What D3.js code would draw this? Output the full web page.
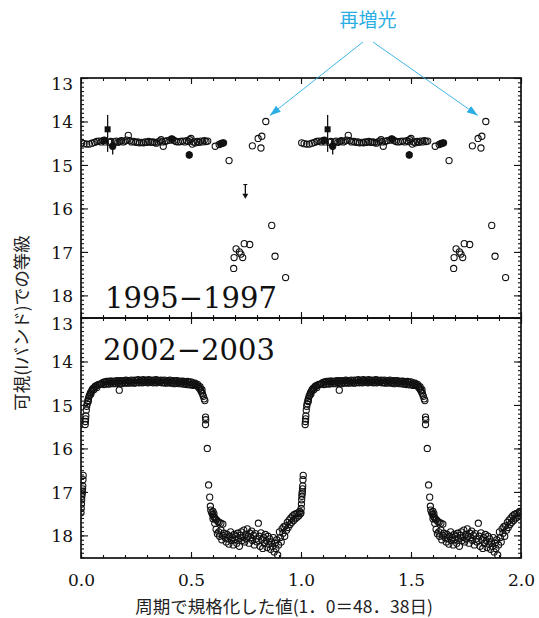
<!DOCTYPE html>
<html><head><meta charset="utf-8">
<script src="https://cdn.jsdelivr.net/npm/d3@7"></script>
<style>body{margin:0;background:#fff}svg{display:block}</style>
</head><body><svg id="c" width="539" height="618"></svg>
<script>
// ---------- data ----------
const xTicks = [0, 0.5, 1.0, 1.5, 2.0];
const yTicks = [13, 14, 15, 16, 17, 18];
const panelLabels = ["1995\u22121997", "2002\u22122003"];
const annotation = "再増光";
const yTitle = "可視(Iバンド)での等級";
const xTitle = "周期で規格化した値(1．0＝48．38日)";
const rebrightPhase = [0.840, 14.00];

// 1995-1997 : open circles [phase, mag]
const top95Open = [[0.003,14.49],[0.014,14.51],[0.026,14.52],[0.038,14.52],[0.050,14.50],[0.062,14.48],[0.072,14.46],[0.082,14.45],[0.092,14.47],[0.100,14.44],[0.110,14.47],[0.130,14.48],[0.136,14.46],[0.152,14.47],[0.160,14.45],[0.168,14.48],[0.176,14.46],[0.184,14.44],[0.192,14.47],[0.200,14.45],[0.208,14.43],[0.215,14.32],[0.222,14.44],[0.230,14.47],[0.240,14.46],[0.250,14.48],[0.258,14.47],[0.266,14.49],[0.276,14.48],[0.284,14.49],[0.292,14.47],[0.300,14.48],[0.308,14.46],[0.318,14.48],[0.326,14.47],[0.334,14.48],[0.342,14.50],[0.350,14.47],[0.358,14.45],[0.364,14.42],[0.370,14.47],[0.374,14.57],[0.382,14.46],[0.392,14.44],[0.404,14.43],[0.416,14.41],[0.424,14.44],[0.432,14.46],[0.442,14.47],[0.452,14.46],[0.462,14.45],[0.472,14.47],[0.480,14.44],[0.488,14.46],[0.494,14.42],[0.500,14.39],[0.506,14.52],[0.512,14.47],[0.520,14.49],[0.528,14.46],[0.536,14.48],[0.544,14.45],[0.552,14.47],[0.560,14.44],[0.568,14.46],[0.576,14.45],[0.610,14.57],[0.628,14.53],[0.673,14.90],[0.694,17.38],[0.696,17.13],[0.705,16.93],[0.720,17.00],[0.727,17.05],[0.735,17.13],[0.742,16.81],[0.767,16.83],[0.779,14.56],[0.805,14.39],[0.818,14.61],[0.822,14.34],[0.840,14.00],[0.867,16.39],[0.882,17.10],[0.930,17.59]];
// 1995-1997 : filled circles
const top95Filled = [[0.106,14.43],[0.144,14.57],[0.412,14.40],[0.492,14.77],[0.636,14.51],[0.642,14.50],[0.648,14.49]];
// 1995-1997 : filled square
const top95Square = [[0.121,14.18]];
// error bars [phase, magTop, magBottom]
const top95Err = [[0.121,13.85,14.70],[0.144,14.46,14.76],[0.492,14.68,14.86]];
// upper limit [phase, magTop, magTip] (shown once)
const top95Limit = [[0.747,15.45,15.78]];

// 2002-2003 [phase, mag]
const bot02Rise = [[0.000,17.48],[0.001,17.38],[0.002,17.28],[0.003,17.18],[0.004,17.10],[0.005,17.04],[0.006,17.00],[0.007,16.93],[0.008,16.86],[0.009,16.72],[0.010,16.62],[0.019,15.45],[0.020,15.38],[0.021,15.32],[0.022,15.25],[0.024,15.12],[0.026,15.03],[0.028,14.97],[0.031,14.90],[0.033,14.92],[0.034,14.85],[0.037,14.80],[0.040,14.77],[0.043,14.72],[0.045,14.75],[0.047,14.69],[0.051,14.65],[0.055,14.62],[0.058,14.65],[0.060,14.60],[0.065,14.57],[0.070,14.56],[0.072,14.60],[0.076,14.54],[0.082,14.53],[0.088,14.52],[0.094,14.51]];
const bot02PlateauA = [[0.100,14.48],[0.108,14.47],[0.116,14.46],[0.124,14.46],[0.132,14.45],[0.140,14.45],[0.148,14.46],[0.156,14.45],[0.164,14.44],[0.172,14.45],[0.180,14.44],[0.188,14.45],[0.196,14.44],[0.204,14.43],[0.212,14.44],[0.220,14.45],[0.228,14.43],[0.236,14.44],[0.244,14.43],[0.252,14.44],[0.260,14.42],[0.268,14.44],[0.276,14.43],[0.284,14.42],[0.292,14.44],[0.300,14.43],[0.308,14.42],[0.316,14.44],[0.324,14.43],[0.332,14.44],[0.340,14.42],[0.348,14.43],[0.356,14.44],[0.364,14.43],[0.372,14.44],[0.380,14.43],[0.388,14.45],[0.396,14.44],[0.404,14.43],[0.412,14.45],[0.420,14.44],[0.428,14.45],[0.436,14.44],[0.444,14.45],[0.452,14.46],[0.460,14.45],[0.468,14.46],[0.476,14.47],[0.484,14.46],[0.492,14.48],[0.500,14.47],[0.508,14.49]];
const bot02PlateauB = [[0.104,14.53],[0.112,14.52],[0.120,14.51],[0.128,14.52],[0.136,14.50],[0.144,14.51],[0.152,14.50],[0.160,14.51],[0.168,14.49],[0.174,14.66],[0.176,14.50],[0.184,14.51],[0.192,14.49],[0.200,14.50],[0.208,14.48],[0.216,14.50],[0.224,14.49],[0.232,14.48],[0.240,14.50],[0.248,14.49],[0.256,14.48],[0.264,14.49],[0.272,14.47],[0.280,14.49],[0.288,14.48],[0.296,14.47],[0.304,14.49],[0.312,14.48],[0.320,14.47],[0.328,14.49],[0.336,14.48],[0.344,14.49],[0.352,14.47],[0.360,14.48],[0.368,14.49],[0.376,14.48],[0.384,14.50],[0.392,14.49],[0.400,14.48],[0.408,14.50],[0.416,14.49],[0.424,14.51],[0.432,14.50],[0.440,14.49],[0.448,14.51],[0.456,14.50],[0.464,14.52],[0.472,14.51],[0.480,14.53],[0.488,14.52],[0.496,14.54],[0.504,14.53],[0.512,14.55]];
const bot02Decline = [[0.515,14.52],[0.518,14.50],[0.522,14.54],[0.528,14.56],[0.530,14.53],[0.534,14.59],[0.539,14.62],[0.541,14.58],[0.544,14.66],[0.548,14.70],[0.550,14.65],[0.552,14.74],[0.556,14.80],[0.560,14.86],[0.563,14.90],[0.566,15.28],[0.567,15.34],[0.566,15.45],[0.574,16.00],[0.580,16.84],[0.585,17.12],[0.588,17.33],[0.590,17.42],[0.594,17.48],[0.598,17.52],[0.600,17.45],[0.602,17.56],[0.604,17.50],[0.606,17.58],[0.610,17.62],[0.615,17.64],[0.622,17.68],[0.628,17.70],[0.636,17.72],[0.645,17.74]];
const bot02Minimum = [[0.600,17.62],[0.608,17.72],[0.614,17.86],[0.620,17.96],[0.626,17.92],[0.630,18.02],[0.636,17.88],[0.640,18.10],[0.645,18.00],[0.650,17.95],[0.655,18.05],[0.660,18.15],[0.664,17.98],[0.668,18.08],[0.672,18.20],[0.676,18.02],[0.680,17.92],[0.684,18.12],[0.688,18.05],[0.692,18.22],[0.696,17.98],[0.700,18.10],[0.704,18.02],[0.708,18.18],[0.712,17.95],[0.716,18.08],[0.720,18.25],[0.724,18.00],[0.728,17.92],[0.732,18.12],[0.736,18.05],[0.740,17.88],[0.744,18.15],[0.748,17.98],[0.752,18.08],[0.756,17.85],[0.760,18.02],[0.764,18.18],[0.768,17.95],[0.772,18.05],[0.776,17.90],[0.780,18.12],[0.784,18.00],[0.788,18.22],[0.792,17.96],[0.796,18.08],[0.800,18.15],[0.806,17.72],[0.810,18.02],[0.814,18.25],[0.818,17.94],[0.822,18.10],[0.826,18.30],[0.830,18.05],[0.834,18.18],[0.838,17.98],[0.842,18.12],[0.846,18.28],[0.850,18.02],[0.854,18.20],[0.858,18.08],[0.862,18.32],[0.866,18.15],[0.870,18.25],[0.874,18.05],[0.878,18.38],[0.882,18.18],[0.886,18.30],[0.890,18.10],[0.894,18.45],[0.898,18.22],[0.902,17.92],[0.906,18.05],[0.910,18.15],[0.914,17.85],[0.918,17.95],[0.922,17.80],[0.926,18.02],[0.930,17.78],[0.934,17.88],[0.938,17.70],[0.942,17.82],[0.946,17.65],[0.950,17.75],[0.954,17.60],[0.958,17.70],[0.962,17.55],[0.966,17.66],[0.970,17.52],[0.974,17.62],[0.978,17.50],[0.982,17.58],[0.986,17.48],[0.990,17.55],[0.994,17.45],[0.997,17.50]];

// ---------- drawing ----------
const svg = d3.select("#c");
const L = 81, R = 521, T1 = 78, M = 318, B = 558;
const x = d3.scaleLinear().domain([0, 2]).range([L, R]);
const yTop = d3.scaleLinear().domain([13, 18.52]).range([T1, M]);
const yBot = d3.scaleLinear().domain([13, 18.52]).range([M, B]);
const serif = "'DejaVu Serif', serif";
const cjk = "'Noto Sans CJK JP', sans-serif";
const cyan = "#2aaee4";

svg.append("clipPath").attr("id","ct").append("rect").attr("x",L).attr("y",T1).attr("width",R-L).attr("height",M-T1);
svg.append("clipPath").attr("id","cb").append("rect").attr("x",L).attr("y",M).attr("width",R-L).attr("height",B-M);

function dup(arr){ return arr.flatMap(d => [[d[0], ...d.slice(1)], [d[0]+1, ...d.slice(1)]]); }

function axes(y, yT, yB, showX){
  const minorY = d3.range(13, 18.55, 0.1);
  const minorX = d3.range(0, 2.001, 0.1);
  svg.append("g").attr("transform",`translate(${L},0)`)
    .call(d3.axisLeft(y).tickValues(minorY).tickSize(-3).tickFormat("").tickSizeOuter(0));
  const gL = svg.append("g").attr("transform",`translate(${L},0)`);
  gL.call(d3.axisLeft(y).tickValues(yTicks).tickSize(-7).tickPadding(8).tickFormat(d3.format("d")).tickSizeOuter(0));
  gL.selectAll("text").attr("font-family",serif).attr("font-size",17).attr("fill","#111")
    .attr("transform", d => d === 13 ? "translate(0,6)" : "translate(0,1)");
  svg.append("g").attr("transform",`translate(${R},0)`).call(d3.axisRight(y).tickValues(minorY).tickSize(-3).tickFormat("").tickSizeOuter(0));
  svg.append("g").attr("transform",`translate(${R},0)`).call(d3.axisRight(y).tickValues(yTicks).tickSize(-7).tickFormat("").tickSizeOuter(0));
  svg.append("g").attr("transform",`translate(0,${yT})`).call(d3.axisTop(x).tickValues(minorX).tickSize(-3).tickFormat("").tickSizeOuter(0));
  svg.append("g").attr("transform",`translate(0,${yT})`).call(d3.axisTop(x).tickValues(xTicks).tickSize(-6).tickFormat("").tickSizeOuter(0));
  svg.append("g").attr("transform",`translate(0,${yB})`).call(d3.axisBottom(x).tickValues(minorX).tickSize(-3).tickFormat("").tickSizeOuter(0));
  const gb = svg.append("g").attr("transform",`translate(0,${yB})`)
    .call(d3.axisBottom(x).tickValues(xTicks).tickSize(-6).tickPadding(16).tickFormat(showX ? d3.format(".1f") : "").tickSizeOuter(0));
  gb.selectAll("text").attr("font-family",serif).attr("font-size",17).attr("fill","#111");
  svg.selectAll(".domain").remove();
  svg.selectAll(".tick line").attr("stroke","#111").attr("stroke-width",1.1);
  svg.append("rect").attr("x",L).attr("y",yT).attr("width",R-L).attr("height",yB-yT)
    .attr("fill","none").attr("stroke","#111").attr("stroke-width",1.7);
}

function circles(g, data, y, filled){
  g.selectAll(null).data(dup(data)).enter().append("circle")
    .attr("cx", d => x(d[0])).attr("cy", d => y(d[1])).attr("r", 3.1)
    .attr("fill", filled ? "#111" : "none").attr("stroke","#111").attr("stroke-width",1.1);
}

// top panel
const gT = svg.append("g").attr("clip-path","url(#ct)");
gT.selectAll(null).data(dup(top95Err)).enter().append("line")
  .attr("x1", d => x(d[0])).attr("x2", d => x(d[0])).attr("y1", d => yTop(d[1])).attr("y2", d => yTop(d[2]))
  .attr("stroke","#111").attr("stroke-width",1.3);
circles(gT, top95Open, yTop, false);
circles(gT, top95Filled, yTop, true);
gT.selectAll(null).data(dup(top95Square)).enter().append("rect")
  .attr("x", d => x(d[0]) - 3).attr("y", d => yTop(d[1]) - 3).attr("width",6).attr("height",6).attr("fill","#111");
const lim = gT.selectAll(null).data(top95Limit).enter().append("g");
lim.append("line").attr("x1", d => x(d[0])).attr("x2", d => x(d[0])).attr("y1", d => yTop(d[1])).attr("y2", d => yTop(d[2]) - 3)
  .attr("stroke","#111").attr("stroke-width",1.3);
lim.append("line").attr("x1", d => x(d[0]) - 2).attr("x2", d => x(d[0]) + 2).attr("y1", d => yTop(d[1])).attr("y2", d => yTop(d[1]))
  .attr("stroke","#111").attr("stroke-width",1.1);
lim.append("path").attr("d", d => { const cx = x(d[0]), ty = yTop(d[2]); return `M${cx-3},${ty-5}L${cx+3},${ty-5}L${cx},${ty}Z`; }).attr("fill","#111");

// bottom panel
const gB = svg.append("g").attr("clip-path","url(#cb)");
[bot02Rise, bot02PlateauA, bot02PlateauB, bot02Decline, bot02Minimum].forEach(a => circles(gB, a, yBot, false));

axes(yTop, T1, M, false);
axes(yBot, M, B, true);

// panel labels
svg.append("text").attr("x", 105).attr("y", 308).text(panelLabels[0])
  .attr("font-family",serif).attr("font-size",29).attr("fill","#111");
svg.append("text").attr("x", 103).attr("y", 360).text(panelLabels[1])
  .attr("font-family",serif).attr("font-size",29).attr("fill","#111");

// titles
svg.append("text").attr("transform","translate(28,323) rotate(-90)").attr("text-anchor","middle")
  .attr("font-family",cjk).attr("font-size",17.5).attr("fill","#222").text(yTitle);
svg.append("text").attr("x", 284).attr("y", 613).attr("text-anchor","middle")
  .attr("font-family",cjk).attr("font-size",17.5).attr("fill","#222").text(xTitle);

// annotation
const defs = svg.append("defs");
defs.append("marker").attr("id","ah").attr("viewBox","0 0 10 10").attr("refX",10).attr("refY",5)
  .attr("markerWidth",11).attr("markerHeight",11).attr("markerUnits","userSpaceOnUse").attr("orient","auto")
  .append("path").attr("d","M0,1.5L10,5L0,8.5Z").attr("fill",cyan);
svg.append("text").attr("x", 368).attr("y", 27).attr("text-anchor","middle")
  .attr("font-family",cjk).attr("font-size",19).attr("fill",cyan).text(annotation);
const targets = [[rebrightPhase[0], rebrightPhase[1], 4, -6, 363], [rebrightPhase[0] + 1, rebrightPhase[1], -8, -6, 373]];
svg.selectAll(null).data(targets).enter().append("line")
  .attr("x1", d => d[4]).attr("y1", 42)
  .attr("x2", d => x(d[0]) + d[2]).attr("y2", d => yTop(d[1]) + d[3])
  .attr("stroke",cyan).attr("stroke-width",0.9).attr("marker-end","url(#ah)");
</script></body></html>
